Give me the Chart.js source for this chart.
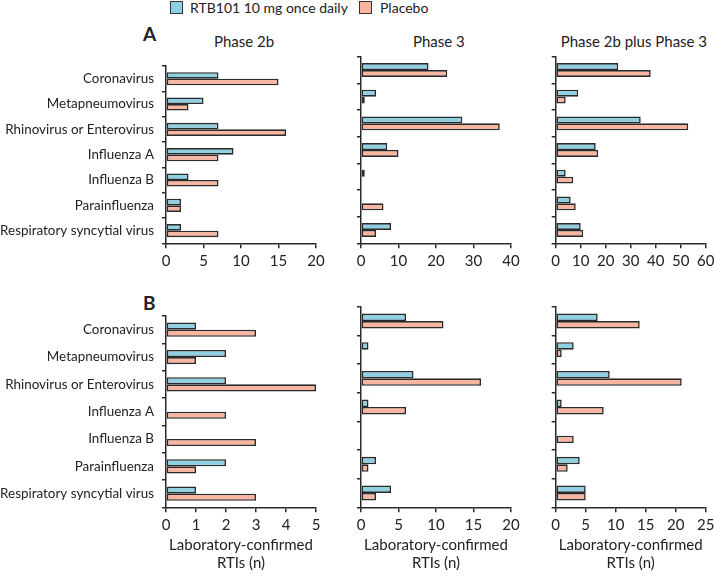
<!DOCTYPE html>
<html>
<head>
<meta charset="utf-8">
<script src="https://cdn.jsdelivr.net/npm/chart.js@4.4.1/dist/chart.umd.min.js"></script>
<style>
  body { margin: 0; background: #fff; width: 714px; height: 576px; position: relative; overflow: hidden;
         font-family: Lato, "Open Sans", sans-serif; color: #222; }
  .pane { position: absolute; }
  .txt { position: absolute; white-space: nowrap; font-size: 15px; line-height: 16px; }
  .leg { font-size: 14px; }
  .sw { position: absolute; width: 13px; height: 13px; border: 1.5px solid #333; box-sizing: border-box; }
  .panel { position: absolute; font-weight: bold; font-size: 19px; }
</style>
</head>
<body>
<div class="sw" style="left:170px;top:1px;background:#8fd0e3"></div>
<div class="txt leg" style="left:190px;top:0px" id="l0"></div>
<div class="sw" style="left:359px;top:1px;background:#f9b5a0"></div>
<div class="txt leg" style="left:380px;top:0px" id="l1"></div>

<div class="panel" style="left:143px;top:22px">A</div>
<div class="panel" style="left:143px;top:291px">B</div>

<div class="txt" id="t0" style="top:33px"></div>
<div class="txt" id="t1" style="top:33px"></div>
<div class="txt" id="t2" style="top:33px"></div>

<div class="pane" style="left:0px;top:50px"><canvas id="a0" width="330" height="230"></canvas></div>
<div class="pane" style="left:340px;top:50px"><canvas id="a1" width="190" height="230"></canvas></div>
<div class="pane" style="left:535px;top:50px"><canvas id="a2" width="179" height="230"></canvas></div>
<div class="pane" style="left:0px;top:300px"><canvas id="b0" width="330" height="276"></canvas></div>
<div class="pane" style="left:340px;top:300px"><canvas id="b1" width="190" height="276"></canvas></div>
<div class="pane" style="left:535px;top:300px"><canvas id="b2" width="179" height="276"></canvas></div>

<script>
const viruses = ["Coronavirus", "Metapneumovirus", "Rhinovirus or Enterovirus", "Influenza A",
  "Influenza B", "Parainfluenza", "Respiratory syncytial virus"];
const seriesNames = ["RTB101 10 mg once daily", "Placebo"];
const phases = ["Phase 2b", "Phase 3", "Phase 2b plus Phase 3"];

// panel A
const aRtb2b = [7, 5, 7, 9, 3, 2, 2];
const aPbo2b = [15, 3, 16, 7, 7, 2, 7];
const aRtb3 = [18, 4, 27, 7, 1, 0, 8];
const aPbo3 = [23, 1, 37, 10, 0, 6, 4];
const aRtbAll = [25, 9, 34, 16, 4, 6, 10];
const aPboAll = [38, 4, 53, 17, 7, 8, 11];

// panel B
const bRtb2b = [1, 2, 2, 0, 0, 2, 1];
const bPbo2b = [3, 1, 5, 2, 3, 1, 3];
const bRtb3 = [6, 1, 7, 1, 0, 2, 4];
const bPbo3 = [11, 0, 16, 6, 0, 1, 2];
const bRtbAll = [7, 3, 9, 1, 0, 4, 5];
const bPboAll = [14, 1, 21, 8, 3, 2, 5];

const maxA = [20, 40, 60], stepA = [5, 10, 10];
const maxB = [5, 20, 25], stepB = [1, 5, 5];
const axisTitle = ["Laboratory-confirmed", "RTIs (n)"];

const FONT = "Lato, 'Open Sans', sans-serif";
const INK = "#2a2a2a";
const BLUE = "#8fd0e3", PINK = "#f9b5a0";

// category labels must fit in about 154px
const probe = document.createElement("canvas").getContext("2d");
probe.font = "14px " + FONT;
const catSize = Math.min(15, 14 * 154 / probe.measureText(viruses[6]).width);

// plot-area left edge (x of 0) inside each canvas, and right padding
const colLeft = [166, 21, 20.7];
const colPadR = [14, 19, 8.3];
const colCenter = [241, 436, 630.7];

function makeChart(id, rtb, pbo, max, step, col, isB) {
  new Chart(document.getElementById(id), {
    type: "bar",
    data: {
      labels: viruses,
      datasets: [
        { label: seriesNames[0], data: rtb, backgroundColor: BLUE },
        { label: seriesNames[1], data: pbo, backgroundColor: PINK },
      ],
    },
    options: {
      indexAxis: "y",
      responsive: false,
      animation: false,
      events: [],
      datasets: {
        bar: {
          borderColor: INK,
          borderWidth: 1.6,
          borderSkipped: false,
          categoryPercentage: 0.52,
          barPercentage: 1.0,
        },
      },
      layout: { padding: { top: 6.7, right: colPadR[col], left: 0, bottom: 0 } },
      plugins: { legend: { display: false }, tooltip: { enabled: false } },
      scales: {
        y: {
          grid: { drawOnChartArea: false, tickLength: 4, color: INK, lineWidth: 1.5 },
          border: { color: INK, width: 1.5 },
          ticks: {
            display: col === 0,
            color: "#222",
            padding: 8,
            font: { family: FONT, size: catSize },
          },
          afterFit: (s) => { s.width = colLeft[col]; },
        },
        x: {
          min: 0,
          max: max,
          grid: { drawOnChartArea: false, tickLength: 5, color: INK, lineWidth: 1.5 },
          border: { color: INK, width: 1.5 },
          ticks: {
            stepSize: step,
            maxRotation: 0,
            color: "#222",
            padding: 4,
            font: { family: FONT, size: 15 },
          },
          title: {
            display: isB,
            text: axisTitle,
            color: "#222",
            padding: { top: 0, bottom: 4 },
            font: { family: FONT, size: 15, lineHeight: 1.2 },
          },
          afterFit: (s) => {
            s.height = isB ? 576 - 507.3 : 280 - 243.3;
            s.paddingLeft = 0;
            s.paddingRight = 0;
          },
        },
      },
    },
  });
}

makeChart("a0", aRtb2b, aPbo2b, maxA[0], stepA[0], 0, false);
makeChart("a1", aRtb3, aPbo3, maxA[1], stepA[1], 1, false);
makeChart("a2", aRtbAll, aPboAll, maxA[2], stepA[2], 2, false);
makeChart("b0", bRtb2b, bPbo2b, maxB[0], stepB[0], 0, true);
makeChart("b1", bRtb3, bPbo3, maxB[1], stepB[1], 1, true);
makeChart("b2", bRtbAll, bPboAll, maxB[2], stepB[2], 2, true);

document.getElementById("l0").textContent = seriesNames[0];
document.getElementById("l1").textContent = seriesNames[1];

// centre the phase titles over each plot column
phases.forEach((p, i) => {
  const el = document.getElementById("t" + i);
  el.textContent = p;
  el.style.left = (colCenter[i] + 3 - el.offsetWidth / 2) + "px";
});
</script>
</body>
</html>
